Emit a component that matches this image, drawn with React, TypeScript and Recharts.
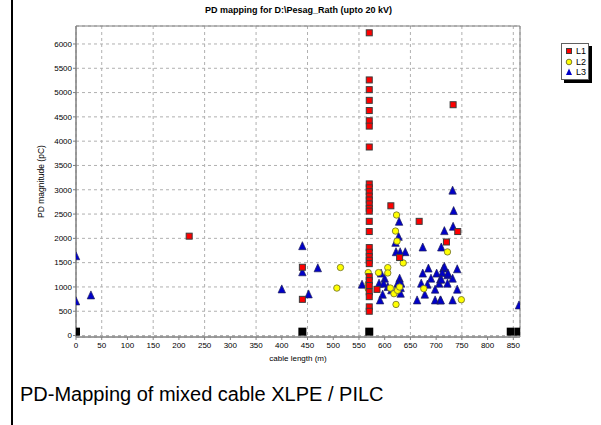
import { ScatterChart, Scatter, XAxis, YAxis, CartesianGrid, ReferenceArea } from 'recharts';

// cable length (m) / PD magnitude (pC)
const xTicks = [0, 50, 100, 150, 200, 250, 300, 350, 400, 450, 500, 550, 600, 650, 700, 750, 800, 850];
const yTicks = [0, 500, 1000, 1500, 2000, 2500, 3000, 3500, 4000, 4500, 5000, 5500, 6000];

const l1: [number, number][] = [
  [570, 6230], [570, 5260], [570, 5060], [570, 4840], [570, 4630], [570, 4420], [570, 4310], [570, 3880],
  [570, 3120], [570, 3040], [570, 2960], [570, 2870], [570, 2790], [570, 2710], [570, 2620], [570, 2560],
  [570, 2350], [570, 2140], [570, 1810], [570, 1715], [570, 1625], [570, 1550], [570, 1480],
  [570, 1210], [570, 1130], [570, 1030], [570, 900], [570, 800], [570, 590], [570, 500],
  [220, 2045], [440, 1405], [440, 745], [612, 2670], [667, 2350], [720, 1925], [629, 1605],
  [585, 950], [742, 2140], [733, 4750],
];

const l2: [number, number][] = [
  [507, 977], [514, 1400], [568, 1295], [568, 1068], [568, 965], [588, 1295], [606, 1398], [606, 1288],
  [623, 2480], [621, 2150], [624, 1942], [636, 1494], [611, 977], [618, 861], [625, 930], [629, 998],
  [622, 640], [676, 965], [722, 1721], [749, 737],
];

const l3: [number, number][] = [
  [0, 1632], [0, 702], [29, 826], [400, 950], [440, 1839], [440, 1302], [452, 847], [470, 1384],
  [556, 1047], [589, 1068], [593, 1275], [600, 1171], [598, 1068], [596, 841], [591, 723], [606, 998],
  [613, 930], [629, 1171], [625, 1068], [632, 1068], [622, 930], [631, 861], [631, 977], [628, 2341],
  [627, 2031], [621, 1907], [622, 1715], [630, 1715], [640, 1715], [674, 1812], [710, 1812], [716, 2149],
  [732, 2982], [734, 2562], [733, 2238], [685, 1378], [674, 1275], [690, 1171], [701, 1275], [708, 1151],
  [714, 1378], [722, 1240], [671, 1068], [683, 1047], [706, 1068], [722, 1068], [698, 944], [678, 841],
  [663, 723], [698, 723], [708, 723], [716, 1411], [741, 1364], [712, 1288], [723, 1275], [732, 1171],
  [710, 1151], [741, 944], [709, 723], [732, 723], [861, 620],
];

// joints / cable ends along the axis
const joints: [number, number][] = [[0, 80], [440, 80], [570, 80], [845, 80], [861, 80]];

const pts = (arr: [number, number][]) => arr.map(([x, y]) => ({ x, y }));

const font = '"Liberation Sans", Arial, sans-serif';

const RedSquare = (p: any) => (
  <rect x={p.cx - 3} y={p.cy - 3} width={6} height={6} fill="#ff0000" stroke="#3c3c3c" strokeWidth={1} />
);
const YellowDot = (p: any) => (
  <circle cx={p.cx} cy={p.cy} r={3.2} fill="#ffff00" stroke="#7a7a30" strokeWidth={0.9} />
);
const BlueTri = (p: any) => (
  <polygon
    points={`${p.cx},${p.cy - 4.5} ${p.cx + 3.7},${p.cy + 3.5} ${p.cx - 3.7},${p.cy + 3.5}`}
    fill="#0000c8"
    stroke="#20205a"
    strokeWidth={0.7}
  />
);
const BlackSquare = (p: any) => <rect x={p.cx - 4} y={p.cy - 4} width={8} height={8} fill="#000" />;

const legendItems = [
  { name: 'L1', shape: <rect x={1.5} y={1.5} width={5} height={5} fill="#ff0000" stroke="#3c3c3c" /> },
  { name: 'L2', shape: <circle cx={4} cy={4} r={2.8} fill="#ffff00" stroke="#7a7a30" /> },
  { name: 'L3', shape: <polygon points="4,0.5 7,7 1,7" fill="#0000c8" /> },
];

export default function App() {
  return (
    <div style={{ position: 'absolute', left: 0, top: 0, width: 601, height: 425, background: '#fff', fontFamily: font }}>
      <div style={{ position: 'absolute', left: 11, top: 0, width: 2, height: 425, background: '#000' }} />
      <div style={{ position: 'absolute', left: 0, width: 601, top: 5, textAlign: 'center', fontSize: 9, fontWeight: 'bold' }}>
        <span style={{ position: 'relative', left: -2 }}>PD mapping for D:\Pesag_Rath (upto 20 kV)</span>
      </div>
      <ScatterChart width={601} height={425} margin={{ top: 26, right: 81, bottom: 58, left: 0 }}>
        <CartesianGrid stroke="#b0b0b0" strokeDasharray="3 3" />
        <XAxis
          type="number"
          dataKey="x"
          domain={[0, 863]}
          ticks={xTicks}
          allowDataOverflow
          height={30}
          tickSize={3}
          tickMargin={2}
          stroke="#808080"
          tick={{ fill: '#000', fontSize: 8, fontFamily: font }}
          label={{ value: 'cable length (m)', position: 'insideBottom', offset: 6, fill: '#000', fontSize: 8, fontFamily: font }}
        />
        <YAxis
          type="number"
          dataKey="y"
          domain={[-30, 6370]}
          ticks={yTicks}
          allowDataOverflow
          width={76}
          tickSize={3}
          tickMargin={1}
          stroke="#808080"
          tick={{ fill: '#000', fontSize: 8, fontFamily: font }}
          label={{ value: 'PD magnitude (pC)', angle: -90, position: 'center', dx: 3, fill: '#000', fontSize: 8.5, fontFamily: font }}
        />
        <ReferenceArea x1={0} x2={863} y1={-30} y2={6370} fill="none" stroke="#808080" strokeWidth={1} />
        <Scatter name="joints" data={pts(joints)} shape={BlackSquare} isAnimationActive={false} legendType="none" />
        <Scatter name="L3" data={pts(l3)} shape={BlueTri} isAnimationActive={false} />
        <Scatter name="L2" data={pts(l2)} shape={YellowDot} isAnimationActive={false} />
        <Scatter name="L1" data={pts(l1)} shape={RedSquare} isAnimationActive={false} />
      </ScatterChart>
      <div
        style={{
          position: 'absolute', left: 561, top: 43, width: 28, height: 37, background: '#fff',
          border: '1px solid #606060', boxShadow: '3px 3px 0 #000', boxSizing: 'border-box', padding: '2px 0 0 3px',
        }}
      >
        {legendItems.map((it) => (
          <div key={it.name} style={{ display: 'flex', alignItems: 'center', height: 10.5, fontSize: 9, lineHeight: '10px' }}>
            <svg width={8} height={8} style={{ marginRight: 3, flex: 'none' }}>{it.shape}</svg>
            <span>{it.name}</span>
          </div>
        ))}
      </div>
      <div style={{ position: 'absolute', left: 20, top: 383, fontSize: 20, whiteSpace: 'nowrap' }}>
        PD-Mapping of mixed cable XLPE / PILC
      </div>
    </div>
  );
}
